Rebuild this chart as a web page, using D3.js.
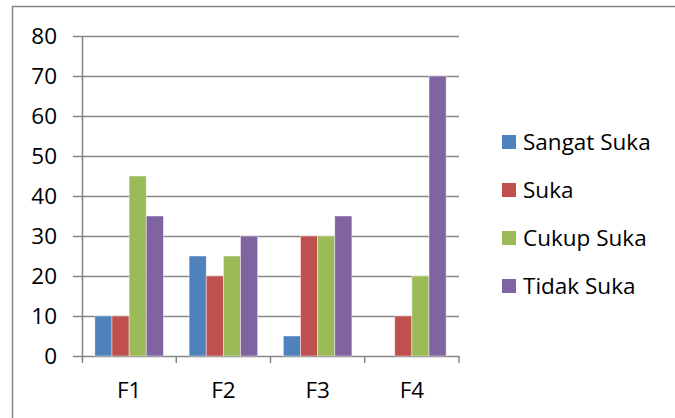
<!DOCTYPE html>
<html>
<head>
<meta charset="utf-8">
<script src="https://cdn.jsdelivr.net/npm/d3@7"></script>
<style>
  html, body { margin: 0; padding: 0; background: #fff; }
  svg text { font-family: "Open Sans", "Noto Sans", sans-serif; fill: #000; }
</style>
</head>
<body>
<svg id="chart" width="675" height="418"></svg>
<script>
// Chart data
const categories = ["F1", "F2", "F3", "F4"];
const seriesNames = ["Sangat Suka", "Suka", "Cukup Suka", "Tidak Suka"];
const sangatSuka = [10, 25, 5, 0];
const suka = [10, 20, 30, 10];
const cukupSuka = [45, 25, 30, 20];
const tidakSuka = [35, 30, 35, 70];
const yTicks = [0, 10, 20, 30, 40, 50, 60, 70, 80];
const colors = ["#4F81BD", "#C0504D", "#9BBB59", "#8064A2"];

const seriesValues = [sangatSuka, suka, cukupSuka, tidakSuka];

const svg = d3.select("#chart");
const gridColor = "#868686";
const fontSize = 22.5;

// Plot area
const plotLeft = 82, plotRight = 459, plotTop = 36, plotBottom = 356;

const y = d3.scaleLinear().domain([0, 80]).range([plotBottom, plotTop]);
const x = d3.scaleBand().domain(categories).range([plotLeft, plotRight]).padding(0);
const xs = d3.scaleBand().domain(seriesNames).range([0, x.bandwidth()])
  .paddingInner(0).paddingOuter(0.75);

// Outer chart frame (left and top edges)
svg.append("path")
  .attr("d", `M12.5,418 L12.5,6.5 L675,6.5`)
  .attr("fill", "none").attr("stroke", gridColor).attr("stroke-width", 1.5);

// Horizontal gridlines with left tick marks
svg.append("g").selectAll("line").data(yTicks).join("line")
  .attr("x1", plotLeft - 9).attr("x2", plotRight)
  .attr("y1", d => Math.round(y(d)) + 0.5).attr("y2", d => Math.round(y(d)) + 0.5)
  .attr("stroke", gridColor).attr("stroke-width", 1.5);

// Y axis line
svg.append("line")
  .attr("x1", plotLeft + 0.5).attr("x2", plotLeft + 0.5)
  .attr("y1", plotTop).attr("y2", plotBottom + 7)
  .attr("stroke", gridColor).attr("stroke-width", 1.5);

// X axis category boundary ticks
const boundaries = categories.map(c => x(c)).concat([plotRight]);
svg.append("g").selectAll("line").data(boundaries.slice(1)).join("line")
  .attr("x1", d => d).attr("x2", d => d)
  .attr("y1", plotBottom).attr("y2", plotBottom + 7)
  .attr("stroke", gridColor).attr("stroke-width", 1.5);

// Y tick labels
svg.append("g").selectAll("text").data(yTicks).join("text")
  .attr("x", 57).attr("y", d => y(d))
  .attr("dy", "0.36em")
  .attr("text-anchor", "end")
  .attr("font-size", fontSize)
  .text(d => d);

// X category labels
svg.append("g").selectAll("text").data(categories).join("text")
  .attr("x", d => x(d) + x.bandwidth() / 2).attr("y", 398)
  .attr("text-anchor", "middle")
  .attr("font-size", fontSize)
  .text(d => d);

// Bars
const groups = svg.append("g").selectAll("g").data(categories).join("g")
  .attr("transform", d => `translate(${x(d)},0)`);
groups.selectAll("rect")
  .data((c, ci) => seriesNames.map((s, si) => ({ s, si, v: seriesValues[si][ci] })))
  .join("rect")
  .filter(d => d.v > 0)
  .attr("x", d => xs(d.s)).attr("width", xs.bandwidth())
  .attr("y", d => y(d.v)).attr("height", d => y(0) - y(d.v))
  .attr("fill", d => colors[d.si])
  .attr("stroke", "#ffffff").attr("stroke-opacity", 0.55).attr("stroke-width", 0.8);

// Legend
const legendY = [142, 190, 238, 286];
const legend = svg.append("g").selectAll("g").data(seriesNames).join("g")
  .attr("transform", (d, i) => `translate(502,${legendY[i]})`);
legend.append("rect")
  .attr("x", 0).attr("y", -7).attr("width", 14).attr("height", 14)
  .attr("fill", (d, i) => colors[i]);
legend.append("text")
  .attr("x", 21).attr("y", 0).attr("dy", "0.36em")
  .attr("font-size", fontSize)
  .text(d => d);
</script>
</body>
</html>
